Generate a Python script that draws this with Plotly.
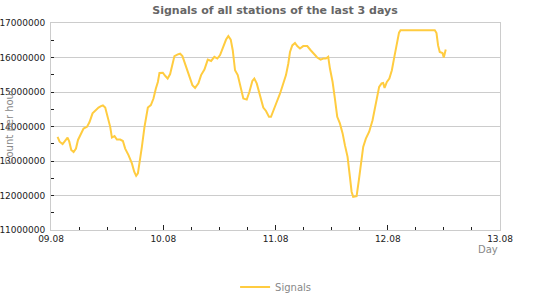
import pandas as pd
import plotly.graph_objects as go

# hours after 09.08 00:00
hours = [1.41, 1.84, 2.48, 3.05, 3.54, 3.91, 4.33, 4.83, 5.34, 5.77, 6.26, 6.96, 7.69, 8.24, 8.88,
         9.46, 10.16, 10.68, 11.10, 11.59, 12.09, 12.66, 13.02, 13.58, 14.09, 14.80, 15.37, 15.86,
         16.57, 17.30, 17.79, 18.21, 18.58, 18.92, 19.43, 19.99, 20.28, 20.71, 21.35, 21.91, 22.42,
         22.85, 23.19, 23.91, 24.41, 24.94, 25.47, 25.96, 26.39, 27.12, 27.61, 28.10, 28.68, 29.25,
         29.74, 30.23, 30.81, 31.52, 32.09, 32.80, 33.52, 34.23, 34.93, 35.57, 36.15, 36.85, 37.43,
         37.92, 38.43, 38.86, 39.35, 39.93, 40.63, 41.12, 41.85, 42.41, 43.05, 43.47, 43.99, 44.69,
         45.39, 45.97, 46.61, 47.04, 47.53, 48.26, 48.96, 49.67, 50.24, 50.73, 51.10, 51.59, 52.16,
         52.65, 53.23, 53.93, 54.79, 55.52, 56.22, 56.92, 57.65, 58.21, 58.78, 59.27, 59.64, 60.21,
         60.70, 61.20, 61.77, 62.35, 62.84, 63.41, 63.91, 64.27, 64.61, 65.34, 65.83, 66.26, 66.75,
         67.32, 68.03, 68.75, 69.46, 70.16, 70.68, 71.02, 71.32, 71.81, 72.34, 72.88, 73.41, 73.94,
         74.41, 74.73, 82.06, 82.42, 82.76, 83.12, 83.70, 83.98, 84.19, 84.40]
signals = [13.70, 13.56, 13.49, 13.58, 13.68, 13.56, 13.32, 13.26, 13.36, 13.61, 13.75, 13.94, 13.99,
           14.13, 14.38, 14.47, 14.55, 14.59, 14.61, 14.55, 14.28, 13.99, 13.68, 13.72, 13.62, 13.62,
           13.58, 13.36, 13.17, 12.93, 12.69, 12.57, 12.64, 12.93, 13.41, 13.99, 14.28, 14.55, 14.62,
           14.81, 15.10, 15.29, 15.55, 15.56, 15.47, 15.39, 15.52, 15.82, 16.04, 16.09, 16.11, 16.04,
           15.82, 15.54, 15.39, 15.20, 15.12, 15.25, 15.49, 15.65, 15.94, 15.90, 16.02, 15.97, 16.07,
           16.31, 16.52, 16.62, 16.52, 16.21, 15.63, 15.49, 15.05, 14.81, 14.78, 15.00, 15.32, 15.39,
           15.25, 14.86, 14.55, 14.45, 14.28, 14.28, 14.47, 14.71, 14.95, 15.25, 15.49, 15.82, 16.16,
           16.35, 16.42, 16.33, 16.26, 16.33, 16.33, 16.21, 16.11, 16.00, 15.94, 15.97, 15.97, 16.02,
           15.68, 15.29, 14.81, 14.28, 14.09, 13.80, 13.46, 13.12, 12.54, 12.11, 11.96, 11.98, 12.45,
           12.93, 13.41, 13.65, 13.85, 14.18, 14.67, 15.15, 15.25, 15.26, 15.12, 15.29, 15.39, 15.63,
           16.02, 16.38, 16.72, 16.79, 16.79, 16.71, 16.35, 16.16, 16.13, 16.00, 16.11, 16.23]

start = pd.Timestamp("2023-08-09 00:00")
times = [start + pd.Timedelta(hours=h) for h in hours]
values = [v * 1e6 for v in signals]

FONT = "DejaVu Sans"
fig = go.Figure()
fig.add_trace(go.Scatter(x=times, y=values, mode="lines", name="Signals",
                         line=dict(color="#ffcc40", width=2)))

fig.update_layout(
    width=550, height=300,
    margin=dict(l=51, r=50, t=23, b=70, autoexpand=False),
    paper_bgcolor="white", plot_bgcolor="white",
    font=dict(family=FONT, size=9, color="#222"),
    title=dict(text="<b>Signals of all stations of the last 3 days</b>",
               x=0.5, xanchor="center", y=1 - 10 / 300, yanchor="middle",
               font=dict(family=FONT, size=11, color="#666")),
    showlegend=True,
    legend=dict(orientation="h", x=0.41, xanchor="left", y=-0.275, yanchor="middle",
                font=dict(family=FONT, size=10, color="#888"), bgcolor="rgba(0,0,0,0)"),
    annotations=[
        dict(text="Count per hour", xref="paper", yref="paper", x=(9 - 51) / 449, y=0.5,
             textangle=-90, showarrow=False, xanchor="center", yanchor="middle",
             font=dict(family=FONT, size=10, color="#888")),
        dict(text="Day", xref="paper", yref="paper", x=(488 - 51) / 449, y=-(249 - 230) / 207,
             showarrow=False, xanchor="center", yanchor="middle",
             font=dict(family=FONT, size=10, color="#888")),
    ],
)
fig.update_xaxes(
    type="date", range=[start, start + pd.Timedelta(days=4)],
    tickformat="%d.%m", dtick=86400000, tick0=start,
    ticks="inside", ticklen=5, tickcolor="#222", tickwidth=1,
    showgrid=False, showline=True, linecolor="#ccc", linewidth=1, mirror=True,
    minor=dict(dtick=6 * 3600000, ticks="inside", ticklen=3, tickcolor="#222", showgrid=False),
    zeroline=False, fixedrange=True, automargin=False,
)
fig.update_yaxes(
    range=[11e6, 17e6], dtick=1e6, tickformat="d",
    ticks="inside", ticklen=3, tickcolor="#222", ticklabelstandoff=3,
    showgrid=True, gridcolor="#ccc", gridwidth=1,
    showline=True, linecolor="#ccc", linewidth=1, mirror=True,
    minor=dict(dtick=5e5, ticks="inside", ticklen=3, tickcolor="#222", showgrid=False),
    zeroline=False, fixedrange=True, automargin=False,
)
fig.write_html("out.html", config={"displayModeBar": False})
